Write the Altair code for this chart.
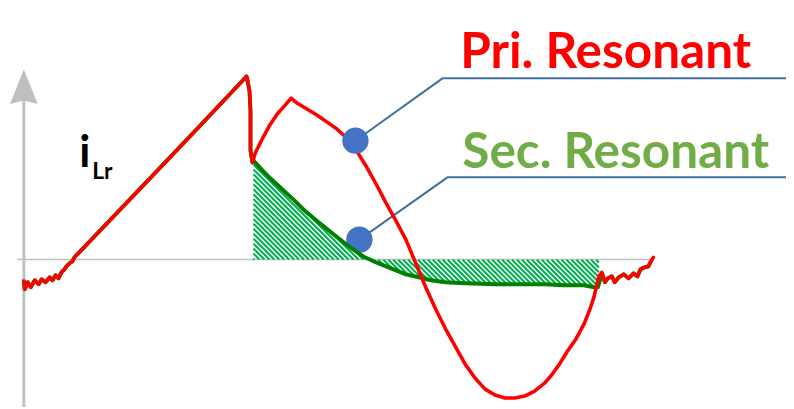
import altair as alt
import pandas as pd
import numpy as np

# Coordinate system: t = horizontal position, i = current (0 at the horizontal axis)

red_t = [24, 25, 28, 31, 35, 39, 42, 46, 50, 53, 56, 59, 62, 65, 67, 70, 73, 75,
         120, 160, 200, 249, 250, 252, 253, 253, 255,
         258, 265, 272, 280, 288, 294, 300, 310, 320, 330, 340, 350, 360, 370,
         380, 390, 400, 410, 420, 430, 440, 450, 460, 470, 480, 490, 500, 510,
         520, 530, 540, 550, 557, 565, 573, 582, 590, 596, 600, 603, 605, 608,
         611, 614, 618, 621, 625, 630, 635, 640, 644, 647, 651, 655, 658, 660]
red_i = [-22, -30, -23, -28, -21, -25, -20, -23, -18, -21, -16, -19, -13, -10, -7, -4, -2, 2,
         49, 91, 133, 185, 182, 170, 150, 110, 98,
         108, 122, 135, 147, 156, 163, 158, 152, 146, 139, 132, 123, 110, 94,
         76, 57, 39, 20, -4, -28, -50, -70, -88, -106, -120, -131, -137, -140,
         -140, -138, -133, -125, -117, -106, -93, -80, -65, -50, -38, -25, -17, -13,
         -23, -19, -17, -23, -18, -15, -19, -14, -17, -10, -8, -7, -1, 2]

green_t = [24, 25, 28, 31, 35, 39, 42, 46, 50, 53, 56, 59, 62, 65, 67, 70, 73, 75,
           120, 160, 200, 249, 252, 253, 253, 255,
           256, 265, 273, 285, 297, 307, 320, 330, 340, 350, 360, 367, 380, 390,
           400, 410, 423, 435, 450, 470, 500, 530, 550, 570, 590, 600, 604,
           608, 611, 614, 618, 621, 625, 630, 635, 640, 644, 647, 651, 655, 658]
green_i = [-22, -30, -23, -28, -21, -25, -20, -23, -18, -21, -16, -19, -13, -10, -7, -4, -2, 2,
           49, 91, 133, 185, 170, 150, 110, 98,
           100, 90, 82, 71, 60, 50, 39, 31, 23, 15, 8, 3, -3, -7,
           -11, -15, -18, -21, -23, -24, -25, -25, -25, -26, -26, -28, -28,
           -14, -23, -19, -17, -23, -18, -15, -19, -14, -17, -10, -8, -7, -1]

# hatched region (secondary resonant charge) spans this interval of t
hatch_start, hatch_end = 256, 605
hatch_period = 5.0   # horizontal spacing of the diagonal hatch lines

# callouts: dot position, elbow, end
callout_name = ["pri", "sec"]
callout_dot_t = [359, 363]
callout_dot_i = [120, 20]
callout_elbow_t = [447, 452]
callout_elbow_i = [183, 83]
callout_end_t = [794, 794]

labels = ["Pri. Resonant", "Sec. Resonant"]
label_t = [465, 467]
label_i = [193, 92]
label_colors = ["#FF0000", "#70AD47"]

# axes
axis_t0, axis_t1 = 17, 656       # horizontal axis extent
vaxis_t = 24                     # vertical axis position
vaxis_top, vaxis_bottom = 161, -149
arrow_i = 174.5

T_MIN, T_MAX = 8, 794
I_MIN, I_MAX = -149, 252

xs = alt.Scale(domain=[T_MIN, T_MAX], nice=False, zero=False)
ys = alt.Scale(domain=[I_MIN, I_MAX], nice=False, zero=False)

red_df = pd.DataFrame({"t": red_t, "i": red_i, "o": range(len(red_t))})
green_df = pd.DataFrame({"t": green_t, "i": green_i, "o": range(len(green_t))})
hatch_src = green_df[(green_df.t >= hatch_start) & (green_df.t <= hatch_end)]

# diagonal hatch lines (i = d - t) clipped between the green curve and zero
gx = hatch_src.t.values.astype(float)
gi = hatch_src.i.values.astype(float)
grid = np.arange(hatch_start, hatch_end + 1e-9, 0.2)
g = np.interp(grid, gx, gi)
lo = np.minimum(g, 0)
hi = np.maximum(g, 0)
segs = []
d = hatch_start + 1.0
while d < hatch_end + hi.max() + 1:
    line = d - grid
    inside = (line >= lo) & (line <= hi)
    idx = np.flatnonzero(inside)
    if idx.size:
        breaks = np.flatnonzero(np.diff(idx) > 1)
        starts = np.r_[idx[0], idx[breaks + 1]]
        ends = np.r_[idx[breaks], idx[-1]]
        for a, b in zip(starts, ends):
            if b > a:
                segs.append({"t": grid[a], "i": d - grid[a],
                             "t2": grid[b], "i2": d - grid[b]})
    d += hatch_period
hatch_df = pd.DataFrame(segs)

rows = []
for k, nm in enumerate(callout_name):
    rows.append({"c": nm, "o": 0, "t": callout_dot_t[k], "i": callout_dot_i[k]})
    rows.append({"c": nm, "o": 1, "t": callout_elbow_t[k], "i": callout_elbow_i[k]})
    rows.append({"c": nm, "o": 2, "t": callout_end_t[k], "i": callout_elbow_i[k]})
callout_df = pd.DataFrame(rows)
dots_df = pd.DataFrame({"c": callout_name, "t": callout_dot_t, "i": callout_dot_i})

axis_df = pd.DataFrame({"t": [axis_t0], "t2": [axis_t1], "i": [0]})
vaxis_df = pd.DataFrame({"t": [vaxis_t], "i": [vaxis_top], "i2": [vaxis_bottom]})
arrow_df = pd.DataFrame({"t": [vaxis_t], "i": [arrow_i]})
label_df = pd.DataFrame({"label": labels, "t": label_t, "i": label_i, "col": label_colors})
il_df = pd.DataFrame({"txt": ["i", "Lr"], "t": [80, 93], "i": [93, 81], "fs": [44, 23]})

X = lambda: alt.X("t:Q", scale=xs, axis=None)
Y = lambda: alt.Y("i:Q", scale=ys, axis=None)

haxis = alt.Chart(axis_df).mark_rule(color="#C0C0C0", strokeWidth=1.5).encode(
    x=X(), x2="t2:Q", y=Y())
vaxis = alt.Chart(vaxis_df).mark_rule(color="#C0C0C0", strokeWidth=3).encode(
    x=X(), y=Y(), y2="i2:Q")
arrow = alt.Chart(arrow_df).mark_point(
    shape="M0,-1L0.8,1L0,0.8L-0.8,1Z", size=1225, filled=True, opacity=1,
    color="#BFBFBF", strokeWidth=0).encode(x=X(), y=Y())

hatch = alt.Chart(hatch_df).mark_rule(color="#00B050", strokeWidth=2.1,
                                      strokeCap="butt").encode(
    x=X(), y=Y(), x2="t2:Q", y2="i2:Q")

callouts = alt.Chart(callout_df).mark_line(color="#41719C", strokeWidth=2).encode(
    x=X(), y=Y(), detail="c:N", order="o:Q")

dot_low = alt.Chart(dots_df).transform_filter(alt.datum.c == "sec").mark_circle(
    size=707, color="#4472C4", opacity=1).encode(x=X(), y=Y())
dot_high = alt.Chart(dots_df).transform_filter(alt.datum.c == "pri").mark_circle(
    size=707, color="#4472C4", opacity=1).encode(x=X(), y=Y())

green = alt.Chart(green_df).mark_line(color="#008000", strokeWidth=4,
                                      strokeJoin="round", strokeCap="round").encode(
    x=X(), y=Y(), order="o:Q")
red = alt.Chart(red_df).mark_line(color="#FF0000", strokeWidth=3.6,
                                  strokeJoin="round", strokeCap="round").encode(
    x=X(), y=Y(), order="o:Q")

text_labels = alt.Chart(label_df).mark_text(
    font="Lato", fontWeight="bold", fontSize=50, align="left", baseline="alphabetic").encode(
    x=X(), y=Y(), text="label:N", color=alt.Color("col:N", scale=None))

il_text = alt.Chart(il_df).mark_text(
    font="Lato", fontWeight="bold", align="left", baseline="alphabetic", color="#000000").encode(
    x=X(), y=Y(), text="txt:N", size=alt.Size("fs:Q", scale=None, legend=None))

chart = alt.layer(haxis, vaxis, arrow, hatch, callouts, dot_low, green, red, dot_high,
                  text_labels, il_text).properties(
    width=786, height=401, padding=0, autosize=alt.AutoSizeParams(type="none"),
    background="#FFFFFF").configure_view(stroke=None)

chart.save("out.html", embed_options={"renderer": "svg", "actions": False})
